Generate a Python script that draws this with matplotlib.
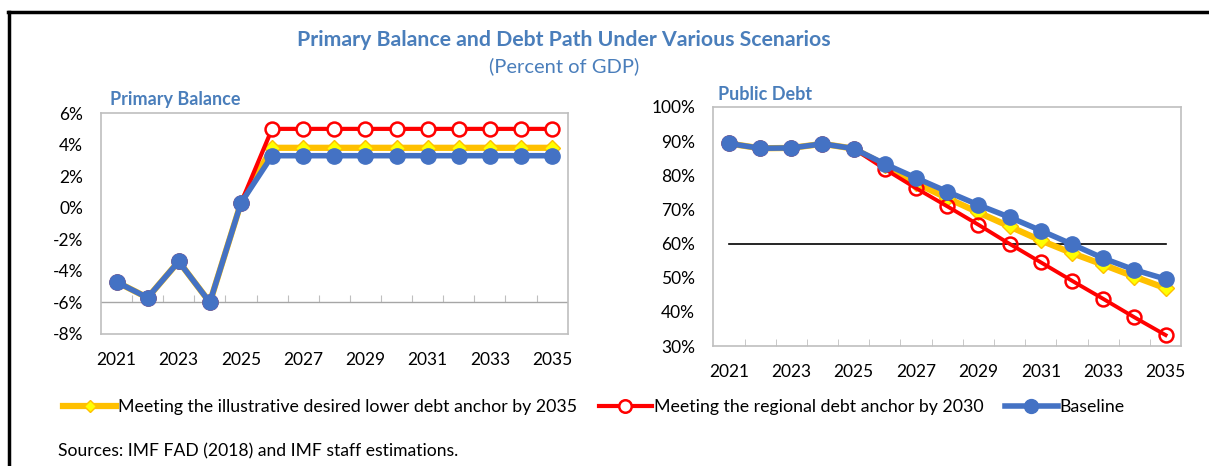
import matplotlib
matplotlib.use("Agg")
import matplotlib.pyplot as plt
from matplotlib.lines import Line2D
from matplotlib.ticker import FuncFormatter

plt.rcParams['font.family'] = ['Lato', 'DejaVu Sans']

years = list(range(2021, 2036))
year_labels = [str(y) for y in years[::2]]

# Primary balance (percent of GDP)
pb_lower_anchor = [-4.7, -5.7, -3.4, -6.0, 0.3, 3.8, 3.8, 3.8, 3.8, 3.8, 3.8, 3.8, 3.8, 3.8, 3.8]
pb_regional = [-4.7, -5.7, -3.4, -6.0, 0.3, 5.0, 5.0, 5.0, 5.0, 5.0, 5.0, 5.0, 5.0, 5.0, 5.0]
pb_baseline = [-4.7, -5.7, -3.4, -6.0, 0.3, 3.3, 3.3, 3.3, 3.3, 3.3, 3.3, 3.3, 3.3, 3.3, 3.3]

# Public debt (percent of GDP)
debt_lower_anchor = [89.3, 87.9, 88.0, 89.2, 87.8, 83.0, 77.7, 73.3, 69.1, 65.0, 60.9, 57.2, 53.8, 50.3, 46.9]
debt_regional = [89.3, 87.9, 88.0, 89.2, 87.8, 81.8, 76.2, 70.9, 65.5, 59.9, 54.5, 49.1, 43.8, 38.4, 33.2]
debt_baseline = [89.3, 87.9, 88.0, 89.2, 87.8, 83.3, 79.2, 75.2, 71.3, 67.7, 63.8, 59.8, 55.7, 52.3, 49.6]
debt_anchor = [60] * 15

labels = ["Meeting the illustrative desired lower debt anchor by 2035",
          "Meeting the regional debt anchor by 2030",
          "Baseline"]

YELLOW = "#FFC000"
RED = "#FF0000"
BLUE = "#4472C4"
TITLE = "#4A7EBB"
GRID = "#BFBFBF"

fig = plt.figure(figsize=(12.09, 4.66), dpi=100)
ax1 = fig.add_axes([0.0835, 0.2833, 0.386, 0.474])
ax2 = fig.add_axes([0.590, 0.2575, 0.387, 0.513])

pct = FuncFormatter(lambda v, p: f"{v:.0f}%")
bounds = [y + 0.5 for y in years[:-1]]

# Primary balance panel
ax1.plot(years, pb_lower_anchor, color=YELLOW, lw=4.5, marker="D", ms=8,
         mfc="#FFFF00", mec=YELLOW, zorder=3)
ax1.plot(years, pb_regional, color=RED, lw=3, marker="o", ms=10,
         mfc="white", mec=RED, mew=1.8, zorder=4)
ax1.plot(years, pb_baseline, color=BLUE, lw=4, marker="o", ms=11,
         mfc=BLUE, mec=BLUE, zorder=5)
ax1.set_xlim(2020.5, 2035.5)
ax1.set_ylim(-8, 6)
ax1.set_yticks(range(-8, 7, 2))
ax1.yaxis.set_major_formatter(pct)
ax1.set_xticks(years[::2])
ax1.set_xticklabels(year_labels)
ax1.tick_params(axis="both", length=0, labelsize=12.5, pad=13)
ax1.axhline(-6, color="#A6A6A6", lw=1, zorder=1)
sec = ax1.secondary_xaxis(2 / 14)
sec.set_xticks(bounds)
sec.set_xticklabels([])
sec.tick_params(direction="in", length=5, color=GRID)
sec.spines["bottom"].set_visible(False)
sec.spines["top"].set_visible(False)
ax1.text(0.02, 1.06, "Primary Balance", transform=ax1.transAxes, fontsize=13,
         fontweight="bold", color=TITLE, va="center")

# Public debt panel
ax2.plot(years, debt_anchor, color="black", lw=1.2, zorder=2)
ax2.plot(years, debt_lower_anchor, color=YELLOW, lw=4.5, marker="D", ms=8,
         mfc="#FFFF00", mec=YELLOW, zorder=3)
ax2.plot(years, debt_regional, color=RED, lw=2.8, marker="o", ms=10,
         mfc="none", mec=RED, mew=1.8, zorder=4)
ax2.plot(years, debt_baseline, color=BLUE, lw=4, marker="o", ms=11,
         mfc=BLUE, mec=BLUE, zorder=5)
ax2.set_xlim(2020.5, 2035.5)
ax2.set_ylim(30, 100)
ax2.set_yticks(range(30, 101, 10))
ax2.yaxis.set_major_formatter(pct)
ax2.set_xticks(years[::2])
ax2.set_xticklabels(year_labels)
ax2.set_xticks(bounds, minor=True)
ax2.tick_params(axis="both", which="major", length=0, labelsize=12.5, pad=13)
ax2.tick_params(axis="x", which="minor", direction="in", length=5, color=GRID)
ax2.text(0.01, 1.05, "Public Debt", transform=ax2.transAxes, fontsize=13,
         fontweight="bold", color=TITLE, va="center")

for ax in (ax1, ax2):
    for s in ax.spines.values():
        s.set_color(GRID)
        s.set_linewidth(1.2)

# Titles
fig.text(564 / 1209, 1 - 40 / 466, "Primary Balance and Debt Path Under Various Scenarios",
         ha="center", va="center", fontsize=15.3, fontweight="bold", color=TITLE)
fig.text(564 / 1209, 1 - 66 / 466, "(Percent of GDP)", ha="center", va="center",
         fontsize=14.5, color=TITLE)

# Legend
handles = [
    Line2D([], [], color=YELLOW, lw=4.5, marker="D", ms=6, mfc="#FFFF00", mec=YELLOW),
    Line2D([], [], color=RED, lw=3, marker="o", ms=9, mfc="white", mec=RED, mew=1.8),
    Line2D([], [], color=BLUE, lw=4, marker="o", ms=10, mfc=BLUE, mec=BLUE),
]
fig.legend(handles, labels, loc="center", bbox_to_anchor=(594 / 1209, 1 - 407 / 466), ncol=3,
           frameon=False, fontsize=12.8, handlelength=3.0, handletextpad=0.1,
           columnspacing=1.2)

fig.text(58 / 1209, 1 - 451 / 466, "Sources: IMF FAD (2018) and IMF staff estimations.",
         ha="left", va="center", fontsize=12.6)

# Frame lines (top and left)
fig.add_artist(Line2D([8 / 1209, 1], [1 - 12 / 466, 1 - 12 / 466], color="black", lw=2.5,
                      transform=fig.transFigure))
fig.add_artist(Line2D([9 / 1209, 9 / 1209], [0, 1 - 12 / 466], color="black", lw=2.5,
                      transform=fig.transFigure))

fig.savefig("out.png", dpi=100)
